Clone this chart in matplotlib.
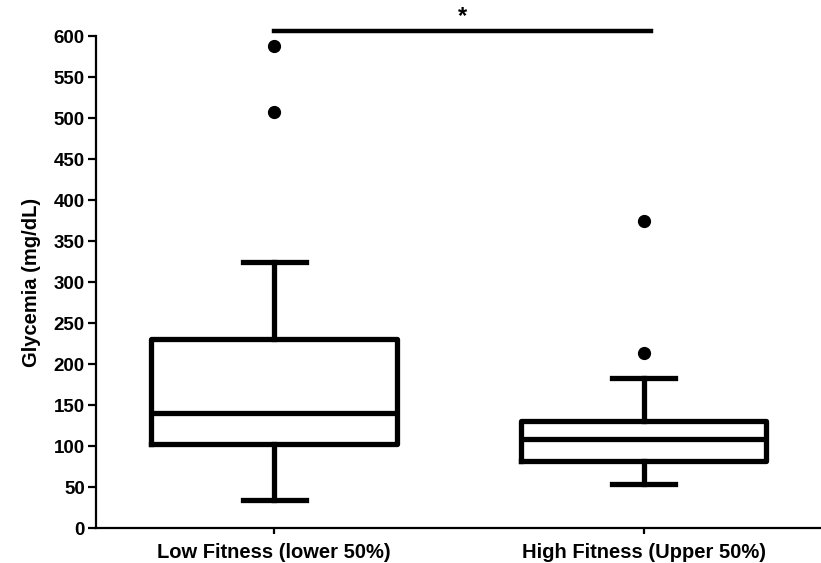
import matplotlib.pyplot as plt

plt.rcParams['font.family'] = ['Liberation Sans', 'DejaVu Sans']
plt.rcParams['font.weight'] = 'bold'

groups = ['Low Fitness (lower 50%)', 'High Fitness (Upper 50%)']
whis_lo = [34, 54]
q1 = [102, 82]
median = [140, 109]
q3 = [231, 131]
whis_hi = [324, 183]
outliers = [[507, 588], [213, 374]]

stats = []
for i in range(len(groups)):
    stats.append({'label': groups[i], 'whislo': whis_lo[i], 'q1': q1[i],
                  'med': median[i], 'q3': q3[i], 'whishi': whis_hi[i],
                  'fliers': outliers[i]})

fig = plt.figure(figsize=(8.21, 5.63), dpi=100)
ax = fig.add_axes([0.117, 0.062, 0.883, 0.874])

lw = 3.8
ax.bxp(stats, positions=[1, 2], widths=0.665, capwidths=0.17,
       boxprops=dict(linewidth=lw, color='black', solid_joinstyle='round'),
       medianprops=dict(linewidth=lw, color='black'),
       whiskerprops=dict(linewidth=lw, color='black'),
       capprops=dict(linewidth=lw, color='black'),
       flierprops=dict(marker='o', markerfacecolor='black', markeredgecolor='black', markersize=8.5))

ax.set_xlim(0.518, 2.48)
ax.set_ylim(0, 600)
ax.set_yticks(range(0, 601, 50))
ax.set_ylabel('Glycemia (mg/dL)', fontsize=14.5, fontweight='bold', labelpad=9)

for s in ['top', 'right']:
    ax.spines[s].set_visible(False)
for s in ['left', 'bottom']:
    ax.spines[s].set_linewidth(1.6)
ax.tick_params(axis='y', length=6, width=1.6, labelsize=13.5, pad=2)
ax.tick_params(axis='x', length=4, width=1.6, labelsize=14.5, pad=7)

# significance bar
ax.plot([1, 2.02], [606, 606], color='black', linewidth=3.2, clip_on=False)
ax.text(1.51, 610, '*', ha='center', va='bottom', fontsize=17, fontweight='bold')

fig.savefig('out.png', dpi=100)
